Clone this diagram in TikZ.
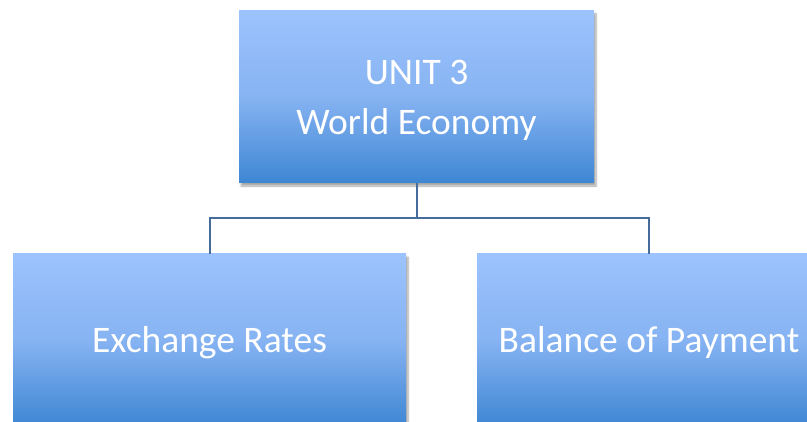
\documentclass[tikz,border=0pt]{standalone}
\usepackage{fontspec}
\setmainfont{Carlito}
\usetikzlibrary{shadows.blur}
\definecolor{boxtop}{HTML}{9CC3FD}
\definecolor{boxmid}{HTML}{86B3F2}
\definecolor{boxbot}{HTML}{3E86D3}
\definecolor{conn}{HTML}{466C9C}
\tikzset{
  unitbox/.style={rectangle, minimum width=#1, minimum height=172pt, inner sep=0pt,
    top color=boxtop, bottom color=boxbot, middle color=boxmid,
    blur shadow={shadow xshift=2pt, shadow yshift=-3pt, shadow blur steps=6, shadow opacity=35}},
  boxtext/.style={text=white, font=\fontsize{37.5}{50}\selectfont, align=center, inner sep=0pt, yshift=-3pt},
  link/.style={draw=conn, line width=2pt}
}
\begin{document}
\begin{tikzpicture}[x=1pt,y=-1pt]
\useasboundingbox (0,0) rectangle (807,422);
\clip (0,0) rectangle (807,422);
\node[unitbox=355pt, label={[boxtext]center:UNIT 3\\World Economy}] (top) at (416.5,97) {};
\node[unitbox=393pt, label={[boxtext]center:Exchange Rates}] (left) at (209.5,340) {};
\node[unitbox=344pt, label={[boxtext]center:Balance of Payment}] (right) at (649,340) {};
\coordinate (mid) at (416.5,218);
\draw[link] (top.south) -- (mid) -| (left.north);
\draw[link] (mid) -| (right.north);
\end{tikzpicture}
\end{document}
